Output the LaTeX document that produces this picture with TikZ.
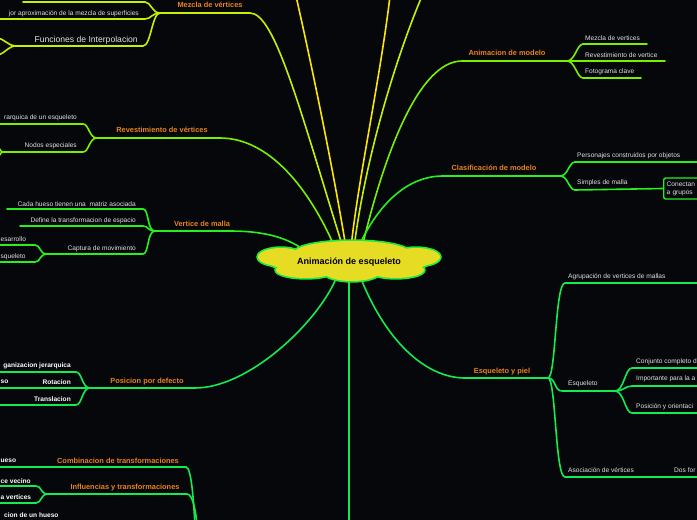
\documentclass[tikz,border=0pt]{standalone}
\usepackage{fontspec}
\setmainfont{Liberation Sans}
\usepackage{tikz}
\usetikzlibrary{calc}
\definecolor{bgblack}{RGB}{5,7,10}
\definecolor{leafgray}{RGB}{225,225,225}
\definecolor{topicorange}{RGB}{235,130,30}
\definecolor{cloudfill}{RGB}{230,220,35}
\definecolor{cloudline}{RGB}{30,235,60}
\definecolor{lineyellow}{RGB}{255,230,0}
\definecolor{lineolive}{RGB}{200,240,0}
\definecolor{linelime}{RGB}{120,240,0}
\definecolor{linegreen}{RGB}{40,240,30}
\definecolor{lineteal}{RGB}{20,235,80}
\pgfdeclarelayer{back}
\pgfdeclarelayer{links}
\pgfsetlayers{back,links,main}
\tikzset{
  roottext/.style={
    rectangle, minimum width=182pt, minimum height=40pt, inner sep=0pt,
    font=\fontsize{9}{11}\selectfont\bfseries, text=black
  },
  puffs/.style={line width=3.4pt},
  topic/.style={font=\fontsize{7.4}{9}\selectfont\bfseries, text=topicorange, inner sep=0pt},
  leaf/.style={font=\fontsize{6.6}{8}\selectfont, text=leafgray, inner sep=0pt},
  leaf-bold/.style={leaf, font=\fontsize{6.6}{8}\selectfont\bfseries, text=white},
  leaf-big/.style={leaf, font=\fontsize{8.6}{10}\selectfont},
  notebox/.style={
    rectangle, rounded corners=2pt, draw=linegreen, line width=1.4pt,
    fill=bgblack, text=leafgray, font=\fontsize{6.6}{8}\selectfont,
    align=left, text width=60pt, minimum height=21pt, inner sep=3pt
  },
  branch/.style={line width=1.6pt, line cap=round}
}

\begin{document}
\begin{tikzpicture}[x=1pt, y=-1pt]
  \useasboundingbox (0,0) rectangle (697,520);
  \clip (0,0) rectangle (697,520);
  \begin{pgfonlayer}{back}
    \fill[bgblack] (0,0) rectangle (697,520);
  \end{pgfonlayer}

  % cloud
  \draw[puffs, cloudline]
    (281,257) ellipse [x radius=23, y radius=9]
    (352,253) ellipse [x radius=58, y radius=12]
    (416,257) ellipse [x radius=24, y radius=9]
    (306,270) ellipse [x radius=30, y radius=8]
    (352,272) ellipse [x radius=28, y radius=9]
    (396,270) ellipse [x radius=28, y radius=8]
    (349,262) ellipse [x radius=80, y radius=12];
  \fill[cloudfill]
    (281,257) ellipse [x radius=23, y radius=9]
    (352,253) ellipse [x radius=58, y radius=12]
    (416,257) ellipse [x radius=24, y radius=9]
    (306,270) ellipse [x radius=30, y radius=8]
    (352,272) ellipse [x radius=28, y radius=9]
    (396,270) ellipse [x radius=28, y radius=8]
    (349,262) ellipse [x radius=80, y radius=12];
  \node[roottext] (root) at (349,262) {Animación de esqueleto};

  % topics
  \node[topic] (mezcla) at (210,5) {Mezcla de vértices};
  \node[topic] (revest) at (162,130) {Revestimiento de vértices};
  \node[topic] (malla) at (202,224) {Vertice de malla};
  \node[topic] (posdef) at (147,382) {Posicion por defecto};
  \node[topic] (combi) at (118,461) {Combinacion de transformaciones};
  \node[topic] (influ) at (125,488) {Influencias y transformaciones};
  \node[topic] (animod) at (507,53) {Animacion de modelo};
  \node[topic] (clasif) at (494,168) {Clasificación de modelo};
  \node[topic] (piel) at (502,372) {Esqueleto y piel};

  % left leaves
  \node[leaf, anchor=east] (aprox) at (139,14) {jor aproximación de la mezcla de superficies};
  \node[leaf-big, anchor=east] (interp) at (138,40) {Funciones de Interpolacion};
  \node[leaf, anchor=east] (jerarq) at (77,118) {rarquica de un esqueleto};
  \node[leaf, anchor=east] (nodos) at (77,146) {Nodos especiales};
  \node[leaf, anchor=east] (cada) at (136,204) {Cada hueso tienen una\ \ matriz asociada};
  \node[leaf, anchor=east] (define) at (136,221) {Define la transformacion de espacio};
  \node[leaf, anchor=east] (captura) at (136,249) {Captura de movimiento};
  \node[leaf, anchor=west] (desarr) at (0.5,239) {esarrollo};
  \node[leaf, anchor=west] (esqcap) at (0.5,257) {squeleto};
  \node[leaf-bold, anchor=east] (organiz) at (71,366) {ganizacion jerarquica};
  \node[leaf-bold, anchor=east] (rota) at (71,382) {Rotacion};
  \node[leaf-bold, anchor=west] (rotaso) at (0.5,382) {so};
  \node[leaf-bold, anchor=east] (trasl) at (71,399) {Translacion};
  \node[leaf-bold, anchor=west] (hueso) at (0.5,461) {ueso};
  \node[leaf-bold, anchor=west] (vecino) at (0.5,481) {ce vecino};
  \node[leaf-bold, anchor=west] (avert) at (0.5,497) {a vertices};
  \node[leaf-bold, anchor=west] (cionhueso) at (4,515) {cion de un hueso};

  % right leaves
  \node[leaf, anchor=west] (mezv) at (585,38) {Mezcla de vertices};
  \node[leaf, anchor=west] (revv) at (585,55) {Revestimiento de vertice};
  \node[leaf, anchor=west] (fotog) at (585,72) {Fotograma clave};
  \node[leaf, anchor=west] (person) at (577,156) {Personajes construidos por objetos};
  \node[leaf, anchor=west] (simples) at (577,183) {Simples de malla};
  \node[notebox, anchor=west] (conectan) at (663,188.5) {Conectan\\a grupos};
  \node[leaf, anchor=west] (agrup) at (568,277) {Agrupación de vertices de mallas};
  \node[leaf, anchor=west] (esqueleto) at (568,384) {Esqueleto};
  \node[leaf, anchor=west] (conjunto) at (636,362) {Conjunto completo d};
  \node[leaf, anchor=west] (importa) at (636,379) {Importante para la a};
  \node[leaf, anchor=west] (posori) at (636,407) {Posición y orientaci};
  \node[leaf, anchor=west] (asocia) at (568,470) {Asociación de vértices};
  \node[leaf, anchor=west] (dosfor) at (674,470) {Dos for};

  % hubs
  \coordinate (mezcla-hub) at (160,13);
  \coordinate (interp-hub) at (15,46);
  \coordinate (revest-hub) at (97,138);
  \coordinate (nodos-hub) at (3,152);
  \coordinate (malla-hub) at (155,231);
  \coordinate (captura-hub) at (47,254);
  \coordinate (posdef-hub) at (90,388);
  \coordinate (influ-hub) at (48,494);
  \coordinate (animod-hub) at (567,61);
  \coordinate (clasif-hub) at (560,176);
  \coordinate (piel-hub) at (548,378);
  \coordinate (esq-hub) at (615,391);

  \begin{pgfonlayer}{links}
    \clip (0,0) rectangle (697,520);
    % top
    \draw[branch, lineolive] ($(root.north)+(-6,6)$) .. controls (300,110) and (275,13) .. (250,13) -- (mezcla-hub);
    \draw[branch, lineolive] (mezcla-hub) .. controls +(-8,0) and +(6,0) .. (145,2) -- (23,2);
    \draw[branch, lineolive] (mezcla-hub) .. controls +(-8,0) and +(6,0) .. (145,19) -- (-5,19);
    \draw[branch, lineolive] (mezcla-hub) .. controls +(-8,0) and +(8,0) .. (143,46) -- (interp-hub);
    \draw[branch, lineolive] (interp-hub) .. controls +(-6,0) and +(6,0) .. (-3,38);
    \draw[branch, lineolive] (interp-hub) .. controls +(-6,0) and +(6,0) .. (-3,55);
    \draw[branch, lineyellow] ($(root.north)+(-3,6)$) .. controls (335,180) and (315,80) .. (296,-4);
    \draw[branch, lineyellow] ($(root.north)+(2,6)$) .. controls (358,180) and (380,80) .. (390,-4);
    \draw[branch, lineolive] ($(root.north)+(5,6)$) .. controls (365,160) and (395,60) .. (422,-4);

    % left
    \draw[branch, linelime] ($(root.north)+(-14,6)$) .. controls (310,190) and (270,138) .. (220,138) -- (revest-hub);
    \draw[branch, linelime] (revest-hub) .. controls +(-8,0) and +(6,0) .. (83,124) -- (-5,124);
    \draw[branch, linelime] (revest-hub) .. controls +(-8,0) and +(6,0) .. (83,152) -- (nodos-hub);
    \draw[branch, linelime] (nodos-hub) .. controls +(-3,0) and +(3,0) .. (-3,147);
    \draw[branch, linelime] (nodos-hub) .. controls +(-3,0) and +(3,0) .. (-3,157);

    \draw[branch, linegreen] ($(root.center)+(-45,-12)$) .. controls (285,236) and (260,231) .. (230,231) -- (malla-hub);
    \draw[branch, linegreen] (malla-hub) .. controls +(-8,0) and +(6,0) .. (143,209) -- (7,209);
    \draw[branch, linegreen] (malla-hub) .. controls +(-8,0) and +(6,0) .. (143,226) -- (20,226);
    \draw[branch, linegreen] (malla-hub) .. controls +(-8,0) and +(6,0) .. (143,254) -- (captura-hub);
    \draw[branch, linegreen] (captura-hub) .. controls +(-8,0) and +(6,0) .. (35,245) -- (-5,245);
    \draw[branch, linegreen] (captura-hub) .. controls +(-8,0) and +(6,0) .. (35,262) -- (-5,262);

    \draw[branch, lineteal] ($(root.south)+(-12,-6)$) .. controls (320,320) and (250,388) .. (195,388) -- (posdef-hub);
    \draw[branch, lineteal] (posdef-hub) .. controls +(-8,0) and +(6,0) .. (76,372) -- (-5,372);
    \draw[branch, lineteal] (posdef-hub) -- (-5,388);
    \draw[branch, lineteal] (posdef-hub) .. controls +(-8,0) and +(6,0) .. (76,405) -- (-5,405);

    \draw[branch, lineteal] (-5,467) -- (186,467) .. controls +(6,0) and +(-1,-15) .. (195,525);
    \draw[branch, lineteal] (influ-hub) -- (187,494) .. controls +(6,0) and +(-1,-12) .. (197,525);
    \draw[branch, lineteal] (influ-hub) .. controls +(-8,0) and +(6,0) .. (36,486) -- (-5,486);
    \draw[branch, lineteal] (influ-hub) .. controls +(-8,0) and +(6,0) .. (36,503) -- (-5,503);

    % down
    \draw[branch, lineteal] ($(root.south)+(0,-6)$) -- (349,525);

    % right
    \draw[branch, linelime] ($(root.north)+(13,6)$) .. controls (385,150) and (420,61) .. (462,61) -- (animod-hub);
    \draw[branch, linelime] (animod-hub) .. controls +(8,0) and +(-6,0) .. (583,44) -- (647,44);
    \draw[branch, linelime] (animod-hub) -- (665,61);
    \draw[branch, linelime] (animod-hub) .. controls +(8,0) and +(-6,0) .. (583,78) -- (641,78);

    \draw[branch, linegreen] ($(root.north)+(9,6)$) .. controls (380,200) and (410,176) .. (443,176) -- (clasif-hub);
    \draw[branch, linegreen] (clasif-hub) .. controls +(8,0) and +(-6,0) .. (575,162) -- (705,162);
    \draw[branch, linegreen] (clasif-hub) .. controls +(8,0) and +(-6,0) .. (575,190) -- (conectan.west);

    \draw[branch, lineteal] ($(root.south)+(11,-6)$) .. controls (385,340) and (425,378) .. (465,378) -- (piel-hub);
    \draw[branch, lineteal] (piel-hub) .. controls +(8,0) and +(-10,0) .. (565,283) -- (705,283);
    \draw[branch, lineteal] (piel-hub) .. controls +(8,0) and +(-8,0) .. (562,391) -- (esq-hub);
    \draw[branch, lineteal] (piel-hub) .. controls +(8,0) and +(-10,0) .. (565,477) -- (705,477);
    \draw[branch, lineteal] (esq-hub) .. controls +(9,0) and +(-7,0) .. (632,368) -- (705,368);
    \draw[branch, lineteal] (esq-hub) .. controls +(9,0) and +(-7,0) .. (632,386) -- (705,386);
    \draw[branch, lineteal] (esq-hub) .. controls +(9,0) and +(-7,0) .. (632,413) -- (705,413);
  \end{pgfonlayer}
\end{tikzpicture}
\end{document}
